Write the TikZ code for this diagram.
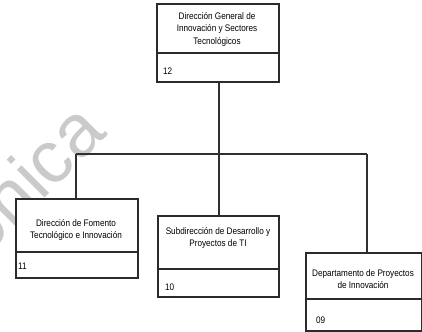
\documentclass[tikz,border=0pt]{standalone}
\usepackage{fontspec}
\setmainfont{Liberation Sans}
\newfontfamily\narrowfont{Liberation Sans}[FakeStretch=0.86]
\newfontfamily\wmfont{Liberation Sans}
\definecolor{boxc}{HTML}{2B2B2B}
\definecolor{linec}{HTML}{303030}
\definecolor{wmc}{HTML}{CACACA}
\tikzset{
  part/.style={draw=boxc, line width=2.2bp, fill=white, inner sep=0pt, anchor=north west},
  ttl/.style={inner sep=0pt, align=center, text=black, font=\narrowfont\fontsize{9.5bp}{12.5bp}\selectfont},
  num/.style={inner sep=0pt, anchor=west, text=black, font=\narrowfont\fontsize{9.5bp}{12.5bp}\selectfont},
  conn/.style={draw=linec, line width=1.5bp},
  wm/.style={text=wmc, inner sep=0pt, anchor=base west, rotate=45, font=\wmfont\fontsize{74bp}{80bp}\selectfont}
}
\begin{document}
\begin{tikzpicture}[x=1bp,y=-1bp]
\useasboundingbox (0,0) rectangle (422,332);
\clip (0,0) rectangle (422,332);
\fill[white] (0,0) rectangle (422,332);
% watermark
\node[wm] (wmk) at (-17,260) {ónica};
% junction coordinates
\coordinate (jc) at (219,154);
\coordinate (jl) at (76,154);
\coordinate (jr) at (367,154);
% boxes
\node[part, minimum width=122bp, minimum height=49bp] (dg) at (156,3) {};
\node[part, minimum width=122bp, minimum height=29bp] (dgn) at (156,52) {};
\node[part, minimum width=122bp, minimum height=53bp] (df) at (15,198) {};
\node[part, minimum width=122bp, minimum height=26bp] (dfn) at (15,251) {};
\node[part, minimum width=121bp, minimum height=53bp] (sd) at (157,215) {};
\node[part, minimum width=121bp, minimum height=28bp] (sdn) at (157,268) {};
\node[part, minimum width=116bp, minimum height=46bp] (dp) at (305,252) {};
\node[part, minimum width=116bp, minimum height=32bp] (dpn) at (305,298) {};
% connectors
\draw[conn] (dgn.south -| jc) -- (jc);
\draw[conn] (jl) -- (jr);
\draw[conn] (jl) -- (jl |- df.north);
\draw[conn] (jc) -- (jc |- sd.north);
\draw[conn] (jr) -- (jr |- dp.north);
% texts
\node[ttl] (dgt) at (217,29) {Dirección General de\\Innovación y Sectores\\Tecnológicos};
\node[num] (dgnt) at (163,71) {12};
\node[ttl] (dft) at (76,230) {Dirección de Fomento\\Tecnológico e Innovación};
\node[num] (dfnt) at (18,266) {11};
\node[ttl] (sdt) at (218,238) {Subdirección de Desarrollo y\\Proyectos de TI};
\node[num] (sdnt) at (165,287) {10};
\node[ttl] (dpt) at (363,279) {Departamento de Proyectos\\de Innovación};
\node[num] (dpnt) at (316,320) {09};
\end{tikzpicture}
\end{document}
